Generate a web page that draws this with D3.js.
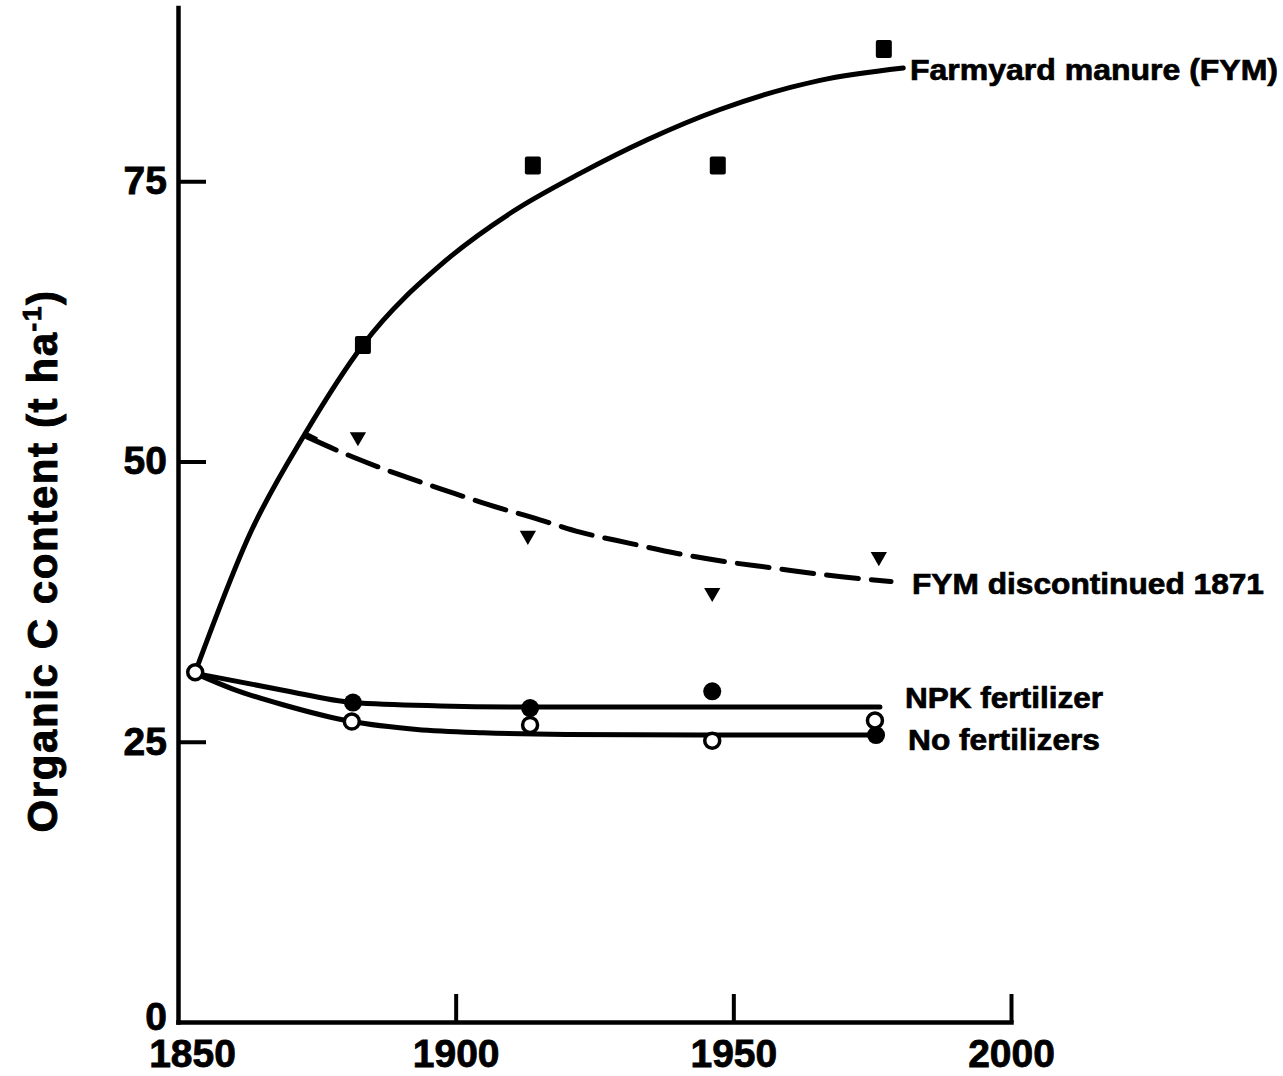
<!DOCTYPE html>
<html>
<head>
<meta charset="utf-8">
<script src="https://cdn.jsdelivr.net/npm/d3@7"></script>
<style>
  body { margin: 0; background: #fff; }
  svg { display: block; }
  text { font-family: "Liberation Sans", Arial, Helvetica, sans-serif; font-weight: bold; fill: #000; }
</style>
</head>
<body>
<svg id="chart" width="1283" height="1076"></svg>
<script>
// Axis ticks
const xTicks = [1850, 1900, 1950, 2000];
const yTicks = [0, 25, 50, 75];

// Measured organic C (t/ha), Broadbalk plots
const fymYears = [1883.3, 1913.9, 1947.2, 1977.1];
const fymValues = [60.4, 76.4, 76.4, 86.8];

const discYears = [1882.4, 1913.0, 1946.2, 1976.2];
const discValues = [52.2, 43.4, 38.3, 41.5];

const npkYears = [1881.5, 1913.4, 1946.2, 1975.7];
const npkValues = [28.5, 28.0, 29.5, 25.6];

const nilYears = [1853.1, 1881.3, 1913.4, 1946.2, 1975.5];
const nilValues = [31.2, 26.8, 26.5, 25.1, 26.9];

// Fitted trend curves
const fymCurveYears = [1853.1, 1863.0, 1872.9, 1883.3, 1898.4, 1910.3, 1922.4, 1934.5, 1947.6, 1965.6, 1980.6];
const fymCurveValues = [31.2, 43.6, 52.5, 60.4, 68.0, 72.3, 75.7, 78.7, 81.4, 84.0, 85.1];

const discCurveYears = [1873.2, 1881.5, 1890.0, 1897.7, 1906.2, 1913.9, 1922.4, 1931.4, 1939.9, 1948.1, 1957.2, 1966.2, 1978.4];
const discCurveValues = [52.2, 50.4, 48.8, 47.5, 46.1, 45.0, 43.7, 42.7, 41.8, 41.1, 40.5, 39.9, 39.3];

const npkCurveYears = [1853.1, 1868.9, 1881.5, 1897.2, 1913.4, 1944.0, 1976.4];
const npkCurveValues = [31.1, 29.6, 28.5, 28.2, 28.1, 28.1, 28.1];

const nilCurveYears = [1853.1, 1859.9, 1868.9, 1881.3, 1893.0, 1904.9, 1920.0, 1944.0, 1975.7];
const nilCurveValues = [31.1, 29.7, 28.3, 26.8, 26.1, 25.8, 25.65, 25.6, 25.6];

const zip = (xs, ys) => xs.map((x, i) => [x, ys[i]]);

const svg = d3.select("#chart");

const x = d3.scaleLinear().domain([1850, 2000]).range([178, 1011]);
const y = d3.scaleLinear().domain([0, 90.5]).range([1022, 7.5]);

// Axes: ticks point inward
const xAxis = d3.axisBottom(x).tickValues(xTicks).tickFormat(d3.format("d"))
  .tickSizeInner(-28).tickSizeOuter(0).tickPadding(17);
const yAxis = d3.axisLeft(y).tickValues(yTicks).tickFormat(d3.format("d"))
  .tickSizeInner(-28).tickSizeOuter(0).tickPadding(11);

const gx = svg.append("g").attr("transform", `translate(0,${y(0)})`).call(xAxis);
const gy = svg.append("g").attr("transform", `translate(${x(1850)},0)`).call(yAxis);

[gx, gy].forEach(g => {
  g.select(".domain").attr("stroke", "#000").attr("stroke-width", 4.5).attr("stroke-linecap", "square");
  g.selectAll(".tick line").attr("stroke", "#000").attr("stroke-width", 4);
  g.selectAll(".tick text")
    .attr("font-size", 39)
    .attr("font-family", "'Liberation Sans', Arial, sans-serif")
    .attr("font-weight", "bold")
    .attr("fill", "#000")
    .attr("stroke", "#000").attr("stroke-width", 0.8);
});
gx.selectAll(".tick").filter(d => d === 1850).select("text").attr("dx", 14);
gy.selectAll(".tick").filter(d => d === 0).select("text").attr("dy", "0.2em");
gy.selectAll(".tick").filter(d => d === 0).select("line").remove();
gx.selectAll(".tick").filter(d => d === 1850).select("line").remove();

// Y axis title
const title = svg.append("text")
  .attr("transform", "translate(57,561) rotate(-90)")
  .attr("text-anchor", "middle")
  .attr("font-size", 42)
  .attr("letter-spacing", 1.6)
  .attr("stroke", "#000").attr("stroke-width", 0.9);
title.append("tspan").text("Organic C content (t ha");
title.append("tspan").attr("font-size", 26).attr("dy", -16).text("-1");
title.append("tspan").attr("dy", 16).text(")");

// Curves
const line = d3.line().x(d => x(d[0])).y(d => y(d[1])).curve(d3.curveMonotoneX);

const curves = [
  { pts: zip(fymCurveYears, fymCurveValues), dash: null },
  { pts: zip(discCurveYears, discCurveValues), dash: "32,13" },
  { pts: zip(npkCurveYears, npkCurveValues), dash: null },
  { pts: zip(nilCurveYears, nilCurveValues), dash: null }
];

svg.append("g").selectAll("path").data(curves).join("path")
  .attr("d", d => line(d.pts))
  .attr("fill", "none")
  .attr("stroke", "#000")
  .attr("stroke-width", 5)
  .attr("stroke-linecap", "round")
  .attr("stroke-dasharray", d => d.dash);

// Short bar marking where manuring stopped
const d0 = [discCurveYears[0], discCurveValues[0]];
svg.append("line")
  .attr("x1", x(d0[0]) - 2).attr("y1", y(d0[1]) - 3)
  .attr("x2", x(d0[0]) + 10).attr("y2", y(d0[1]) + 3)
  .attr("stroke", "#000").attr("stroke-width", 5);

// Markers
const marks = svg.append("g");
marks.selectAll("rect").data(zip(fymYears, fymValues)).join("rect")
  .attr("x", d => x(d[0]) - 8).attr("y", d => y(d[1]) - 9)
  .attr("width", 16).attr("height", 18).attr("rx", 2)
  .attr("fill", "#000");

marks.selectAll("path.tri").data(zip(discYears, discValues)).join("path")
  .attr("class", "tri")
  .attr("d", d3.symbol(d3.symbolTriangle, 115))
  .attr("transform", d => `translate(${x(d[0])},${y(d[1])}) rotate(180)`)
  .attr("fill", "#000");

marks.selectAll("circle.npk").data(zip(npkYears, npkValues)).join("circle")
  .attr("class", "npk")
  .attr("cx", d => x(d[0])).attr("cy", d => y(d[1])).attr("r", 9)
  .attr("fill", "#000");

marks.selectAll("circle.nil").data(zip(nilYears, nilValues)).join("circle")
  .attr("class", "nil")
  .attr("cx", d => x(d[0])).attr("cy", d => y(d[1])).attr("r", 7.5)
  .attr("fill", "#fff").attr("stroke", "#000").attr("stroke-width", 3.5);

// Series labels
const labels = [
  { text: "Farmyard manure (FYM)", x: 910, y: 80, len: 368 },
  { text: "FYM discontinued 1871", x: 912, y: 594, len: 352 },
  { text: "NPK fertilizer", x: 905, y: 708, len: 198 },
  { text: "No fertilizers", x: 908, y: 750, len: 192 }
];
svg.append("g").selectAll("text").data(labels).join("text")
  .attr("x", d => d.x).attr("y", d => d.y)
  .attr("font-size", 29)
  .attr("textLength", d => d.len)
  .attr("lengthAdjust", "spacingAndGlyphs")
  .attr("stroke", "#000").attr("stroke-width", 0.7)
  .text(d => d.text);
</script>
</body>
</html>
